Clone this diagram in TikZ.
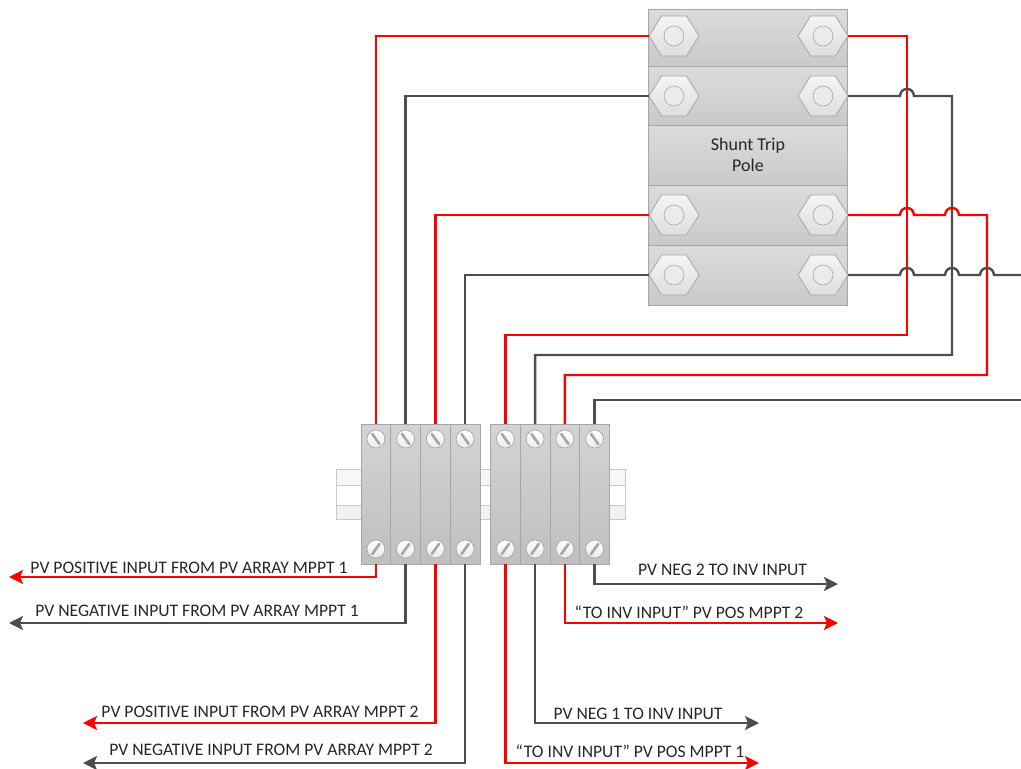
\documentclass[tikz,border=0pt]{standalone}
\usepackage{fontspec}
\setmainfont{Carlito}
\usetikzlibrary{arrows.meta,shapes.geometric}
\definecolor{wred}{HTML}{FF0000}
\definecolor{wdark}{HTML}{4D4D4D}
\definecolor{edge}{HTML}{A6A6A6}
\definecolor{ink}{HTML}{262626}
\newcommand{\jump}[2]{-- (#1-7,#2) .. controls (#1-6.5,#2-4.5) and (#1-4,#2-7) .. (#1,#2-7) .. controls (#1+4,#2-7) and (#1+6.5,#2-4.5) .. (#1+7,#2)}
\tikzset{
  section/.style={draw=edge,line width=0.8pt,top color=black!14,bottom color=black!21,minimum width=199pt,inner sep=0pt,outer sep=0pt,align=center,text=ink,font=\fontsize{18}{21}\selectfont},
  module/.style={draw=edge,line width=0.8pt,top color=black!17,bottom color=black!25,minimum width=29.75pt,minimum height=140pt,inner sep=0pt,outer sep=0pt},
  nut/.style={regular polygon,regular polygon sides=6,minimum size=50pt,inner sep=0pt,outer sep=0pt,transform shape,yscale=0.92,draw=black!35,line width=0.8pt,top color=black!4,bottom color=black!13},
  nutcore/.style={circle,minimum size=20pt,inner sep=0pt,outer sep=0pt,draw=black!35,line width=0.6pt,fill=black!8},
  screw/.style={circle,minimum size=18pt,inner sep=0pt,outer sep=0pt,draw=black!35,line width=0.7pt,top color=white,bottom color=black!8},
  slot/.style={draw=black!35,line width=2.6pt,line cap=round},
  railband/.style={draw=black!22,line width=0.8pt},
  redwire/.style={draw=wred,line width=2.4pt},
  darkwire/.style={draw=wdark,line width=2.4pt},
  tip/.style={-{Stealth[length=14pt,width=14pt,inset=3pt]}},
  lbl/.style={text=ink,inner sep=0pt,font=\fontsize{17.6}{20}\selectfont},
}
\begin{document}
\begin{tikzpicture}[x=1pt,y=-1pt]
\useasboundingbox (0,0) rectangle (1021,769);
% breaker panel
\node[section,minimum height=57pt] (p1) at (748,37.5) {};
\node[section,minimum height=59pt] (p2) at (748,95.5) {};
\node[section,minimum height=60pt] (p3) at (748,155) {Shunt Trip\\Pole};
\node[section,minimum height=60pt] (p4) at (748,215) {};
\node[section,minimum height=60pt] (p5) at (748,275) {};
\foreach \n/\x/\y in {hl1/674/36,hl2/674/96,hl3/674/215,hl4/674/275,hr1/823/36,hr2/823/96,hr3/823/215,hr4/823/275}{
  \node[nut] (\n) at (\x,\y) {};
  \node[nutcore] (\n c) at (\x,\y) {};
}
% DIN rail
\filldraw[railband,fill=black!3] (336,469) rectangle (625,485);
\filldraw[railband,fill=white] (336,485) rectangle (625,505);
\filldraw[railband,fill=black!5] (336,505) rectangle (625,519);
% terminal modules
\foreach \n/\x in {t1/375.9,t2/405.6,t3/435.4,t4/465.1,t5/505.4,t6/535.1,t7/564.9,t8/594.6}{
  \node[module] (\n) at (\x,494) {};
  \node[screw] (\n a) at (\x,439) {};
  \draw[slot] (\x-3.6,439-5) -- (\x+3.6,439+5);
  \node[screw] (\n b) at (\x,549) {};
  \draw[slot] (\x-3.6,549+5) -- (\x+3.6,549-5);
}
% bends and free ends
\coordinate (c1) at (907,335);
\coordinate (c2) at (952,355);
\coordinate (c3) at (987,375);
\coordinate (out1) at (1021,275);
\coordinate (out2) at (1021,400);
\coordinate (e1) at (9,577);
\coordinate (e2) at (9,623);
\coordinate (e3) at (83,723);
\coordinate (e4) at (83,763);
\coordinate (e5) at (759,763);
\coordinate (e6) at (759,723);
\coordinate (e7) at (838,623);
\coordinate (e8) at (838,584);
% upper wires
\draw[redwire] (hl1.west) -| (t1.north);
\draw[darkwire] (hl2.west) -| (t2.north);
\draw[redwire] (hl3.west) -| (t3.north);
\draw[darkwire] (hl4.west) -| (t4.north);
\draw[redwire] (hr1.east) -| (c1) -| (t5.north);
\draw[darkwire] (hr2.east) \jump{907}{96} -| (c2) -| (t6.north);
\draw[redwire] (hr3.east) \jump{907}{215} \jump{952}{215} -| (c3) -| (t7.north);
\draw[darkwire] (hr4.east) \jump{907}{275} \jump{952}{275} \jump{987}{275} -- (out1);
\draw[darkwire] (out2) -| (t8.north);
% lower wires
\draw[redwire,tip] (t1.south) |- (e1);
\draw[darkwire,tip] (t2.south) |- (e2);
\draw[redwire,tip] (t3.south) |- (e3);
\draw[darkwire,tip] (t4.south) |- (e4);
\draw[redwire,tip] (t5.south) |- (e5);
\draw[darkwire,tip] (t6.south) |- (e6);
\draw[redwire,tip] (t7.south) |- (e7);
\draw[darkwire,tip] (t8.south) |- (e8);
% labels
\node[lbl] (l1) at (189,568) {PV POSITIVE INPUT FROM PV ARRAY MPPT 1};
\node[lbl] (l2) at (197,611) {PV NEGATIVE INPUT FROM PV ARRAY MPPT 1};
\node[lbl] (l3) at (260,712) {PV POSITIVE INPUT FROM PV ARRAY MPPT 2};
\node[lbl] (l4) at (271,750) {PV NEGATIVE INPUT FROM PV ARRAY MPPT 2};
\node[lbl] (l5) at (722.5,570) {PV NEG 2 TO INV INPUT};
\node[lbl] (l6) at (689,612) {“TO INV INPUT” PV POS MPPT 2};
\node[lbl] (l7) at (638,714) {PV NEG 1 TO INV INPUT};
\node[lbl] (l8) at (630,751) {“TO INV INPUT” PV POS MPPT 1};
\end{tikzpicture}
\end{document}
